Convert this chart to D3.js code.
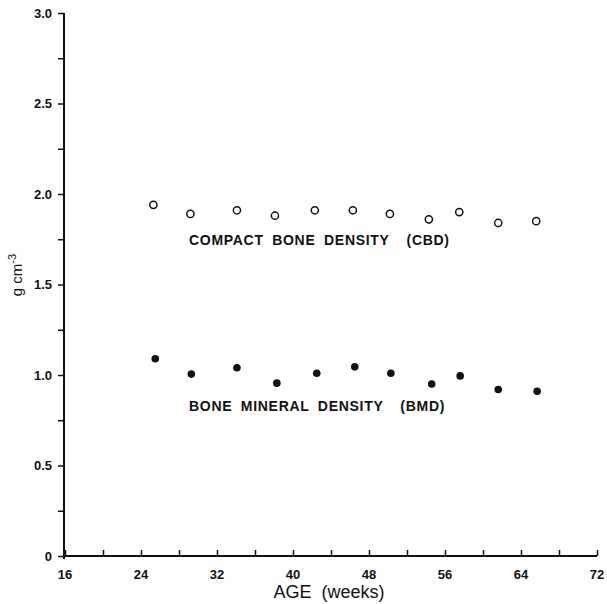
<!DOCTYPE html>
<html>
<head>
<meta charset="utf-8">
<script src="https://cdn.jsdelivr.net/npm/d3@7"></script>
<style>
  html, body { margin: 0; padding: 0; background: #fff; }
  svg { display: block; font-family: "Liberation Sans", Arial, sans-serif; }
</style>
</head>
<body>
<svg id="chart" width="607" height="604"></svg>
<script>
// ages (weeks)
const cbdAge = [25.3, 29.2, 34.1, 38.1, 42.3, 46.3, 50.2, 54.3, 57.5, 61.6, 65.6];
const cbdVal = [1.94, 1.89, 1.91, 1.88, 1.91, 1.91, 1.89, 1.86, 1.90, 1.84, 1.85];
const bmdAge = [25.5, 29.3, 34.1, 38.3, 42.5, 46.5, 50.3, 54.6, 57.6, 61.6, 65.7];
const bmdVal = [1.09, 1.005, 1.04, 0.955, 1.01, 1.045, 1.01, 0.95, 0.995, 0.92, 0.91];

const xTicks = [16, 24, 32, 40, 48, 56, 64, 72];
const xMinor = d3.range(16, 73, 4);
const yTicks = [0, 0.5, 1.0, 1.5, 2.0, 2.5, 3.0];
const yLabels = ["0", "0.5", "1.0", "1.5", "2.0", "2.5", "3.0"];
const yMinor = d3.range(0, 3.01, 0.25);

const svg = d3.select("#chart");
const x = d3.scaleLinear().domain([16, 72]).range([65, 597]);
const y = d3.scaleLinear().domain([0, 3]).range([556, 13]);
const ink = "#111";

// x axis: ticks point up into the plot
const xAxis = svg.append("g").attr("transform", `translate(0,${y(0)})`)
    .call(d3.axisTop(x).tickValues(xMinor).tickSize(6).tickFormat(""));
xAxis.select(".domain").attr("stroke", ink).attr("stroke-width", 2).attr("d", `M${x(16) - 1},0H${x(72)}`);
xAxis.selectAll(".tick line").attr("stroke", ink).attr("stroke-width", 1.5);

svg.append("g").selectAll("text").data(xTicks).join("text")
    .attr("x", d => x(d)).attr("y", 579)
    .attr("text-anchor", "middle")
    .attr("font-size", 13).attr("font-weight", "bold").attr("fill", ink)
    .text(d => d);

// y axis: ticks point outward
const yAxis = svg.append("g").attr("transform", `translate(${x(16) - 1},0)`)
    .call(d3.axisLeft(y).tickValues(yMinor).tickSize(6).tickFormat(""));
yAxis.select(".domain").attr("stroke", ink).attr("stroke-width", 2).attr("d", `M0,${y(3)}V${y(0) + 3}`);
yAxis.selectAll(".tick line").attr("stroke", ink).attr("stroke-width", 1.5);

svg.append("g").selectAll("text").data(yTicks).join("text")
    .attr("x", 52).attr("y", d => y(d) + 4.5)
    .attr("text-anchor", "end")
    .attr("font-size", 13).attr("font-weight", "bold").attr("fill", ink)
    .text((d, i) => yLabels[i]);

// axis titles
svg.append("text")
    .attr("x", 329).attr("y", 598)
    .attr("text-anchor", "middle")
    .attr("font-size", 18).attr("fill", ink)
    .attr("xml:space", "preserve")
    .text("AGE  (weeks)");

const yt = svg.append("text")
    .attr("transform", `translate(22,275) rotate(-90)`)
    .attr("text-anchor", "middle")
    .attr("font-size", 15).attr("fill", ink);
yt.append("tspan").text("g cm");
yt.append("tspan").attr("dy", -6).attr("font-size", 11).text("-3");

// points
svg.append("g").selectAll("circle").data(cbdAge).join("circle")
    .attr("cx", d => x(d)).attr("cy", (d, i) => y(cbdVal[i]))
    .attr("r", 3.6).attr("fill", "#fff").attr("stroke", ink).attr("stroke-width", 1.5);

svg.append("g").selectAll("circle").data(bmdAge).join("circle")
    .attr("cx", d => x(d)).attr("cy", (d, i) => y(bmdVal[i]))
    .attr("r", 3.8).attr("fill", ink);

// series labels
const lab = (t, yy) => svg.append("text")
    .attr("x", 189).attr("y", yy)
    .attr("font-size", 14).attr("font-weight", "bold").attr("fill", ink)
    .attr("letter-spacing", 0.7).attr("word-spacing", 4)
    .attr("xml:space", "preserve")
    .text(t);
lab("COMPACT BONE DENSITY  (CBD)", 245);
lab("BONE MINERAL DENSITY  (BMD)", 411);
</script>
</body>
</html>
